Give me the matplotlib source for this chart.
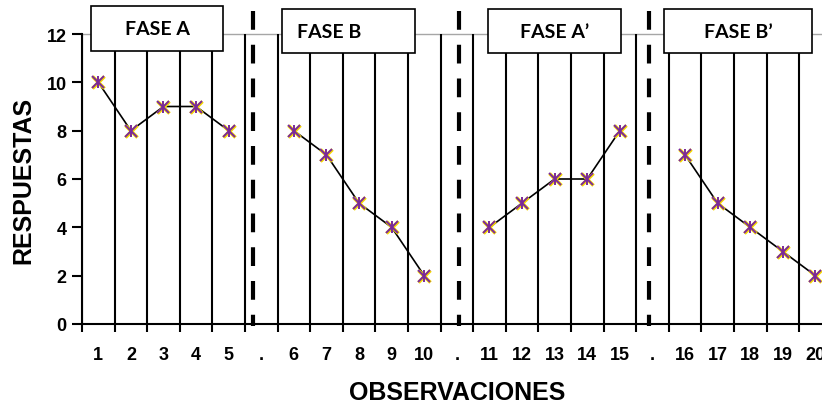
import numpy as np
import matplotlib
matplotlib.use('Agg')
import matplotlib.pyplot as plt
from matplotlib.patches import Rectangle

# datos
categorias = ['1', '2', '3', '4', '5', '.', '6', '7', '8', '9', '10', '.',
              '11', '12', '13', '14', '15', '.', '16', '17', '18', '19', '20']
fase_a = [10, 8, 9, 9, 8]
fase_b = [8, 7, 5, 4, 2]
fase_a2 = [4, 5, 6, 6, 8]
fase_b2 = [7, 5, 4, 3, 2]
fases = ['FASE A', 'FASE B', 'FASE A\u2019', 'FASE B\u2019']
inicio_fase = [0, 6, 12, 18]

x = np.arange(len(categorias))

fig = plt.figure(figsize=(8.22, 4.06), dpi=100)
ax = fig.add_axes([82/822, 81/406, 749.7/822, 290/406])

# lineas verticales en los limites de cada categoria
for b in np.arange(-0.5, len(categorias) + 0.5, 1):
    ax.plot([b, b], [0, 12], color='black', lw=1.5, zorder=1)

# linea gris a 12
ax.axhline(12, color='#a6a6a6', lw=1.0, zorder=0.5, clip_on=False, xmax=2)

# separadores de fase
for xs in [4.74, 11.06, 16.91]:
    ax.plot([xs, xs], [12.95, -0.1], color='black', lw=3.0,
            dashes=(4.5, 3.6), clip_on=False, zorder=4)

for serie, ini in zip([fase_a, fase_b, fase_a2, fase_b2], inicio_fase):
    xs = x[ini:ini + len(serie)]
    ax.plot(xs, serie, color='black', lw=1.2, zorder=3)
    ax.plot(xs, serie, ls='none', marker='x', ms=9, mew=2.5,
            color='#f5d800', zorder=4)
    ax.plot(xs, serie, ls='none', marker='x', ms=8, mew=1.4,
            color='#7a2a9a', zorder=5)
    ax.plot(xs, serie, ls='none', marker='|', ms=9, mew=1.4,
            color='#7a2a9a', zorder=5)

# cajas de fase
cajas = [(-0.23, 11.30, 4.06, 1.86, 'center'),
         (5.64, 11.21, 4.08, 1.82, 'left'),
         (11.95, 11.21, 4.08, 1.82, 'center'),
         (17.36, 11.21, 4.53, 1.82, 'center')]
for (cx, cy, w, h, al), nombre in zip(cajas, fases):
    ax.add_patch(Rectangle((cx, cy), w, h, facecolor='white',
                           edgecolor='black', lw=1.2, clip_on=False, zorder=6))
    tx = cx + w / 2 if al == 'center' else cx + 0.45
    ax.text(tx, cy + h / 2, nombre, ha=al, va='center', fontsize=14,
            fontfamily='Lato', fontweight='bold', zorder=7, clip_on=False)

ax.set_xlim(-0.5, len(categorias) - 0.5)
ax.set_ylim(0, 12)
ax.set_yticks(range(0, 13, 2))
ax.set_xticks(np.arange(-0.5, len(categorias) + 0.5, 1))
ax.set_xticklabels([])
ax.set_xticks(x, minor=True)
ax.set_xticklabels(categorias, minor=True)

ax.tick_params(axis='x', which='major', length=6, width=1.5, direction='out')
ax.tick_params(axis='x', which='minor', length=0, pad=16)
ax.tick_params(axis='y', length=7, width=1.5, pad=4)
for lab in ax.get_xticklabels(minor=True) + ax.get_yticklabels():
    lab.set_fontfamily('Liberation Sans')
    lab.set_fontweight('bold')
    lab.set_fontsize(13)

ax.spines['top'].set_visible(False)
ax.spines['right'].set_visible(False)
ax.spines['left'].set_linewidth(1.5)
ax.spines['bottom'].set_linewidth(1.5)

ax.set_xlabel('OBSERVACIONES', fontfamily='Liberation Sans', fontweight='bold',
              fontsize=18, labelpad=12)
ax.set_ylabel('RESPUESTAS', fontfamily='Liberation Sans', fontweight='bold',
              fontsize=18, labelpad=8)

fig.savefig('out.png', dpi=100)
